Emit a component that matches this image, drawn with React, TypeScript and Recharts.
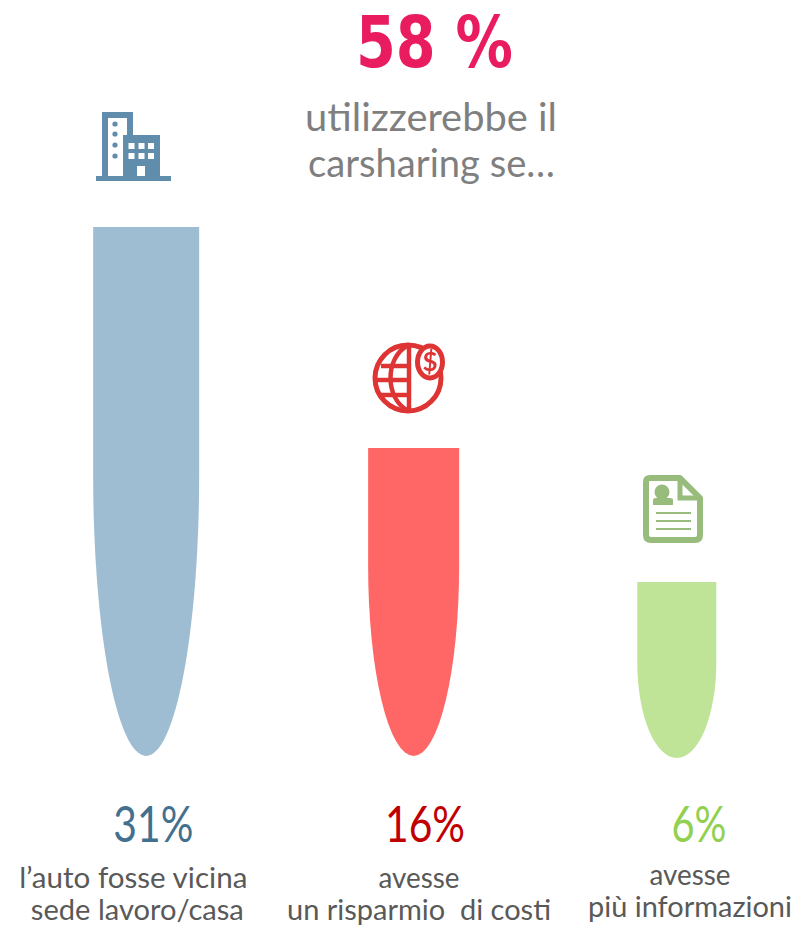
import { BarChart, Bar, XAxis, YAxis, Cell } from 'recharts';

// what each bar says
const categories = ['vicina', 'risparmio', 'informazioni'];
const percentLabels = ['31%', '16%', '6%'];
const captionTop = ['l\u2019auto fosse vicina', 'avesse', 'avesse'];
const captionBottom = ['sede lavoro/casa', 'un risparmio\u00a0\u00a0di costi', 'più informazioni'];
// drawn bar lengths: the picture is not to scale with the percentages
const drawnValues = [31, 18.05, 10.2];

const barColors = ['#9EBDD3', '#FF6666', '#BFE397'];
const percentColors = ['#44708F', '#C00000', '#92D050'];
const barWidths = [106, 91, 79];
const tipHeights = [280, 190, 95];
const barNudge = [0.7, 3.5, 2];
const bottomNudge = [0, 0, 2];
const percentDx = [8, 15, 24.3];
const percentWidths = [80, 80, 55];
const captionDx = [-12, 9, 15.3];
const captionBottomDx = [-8, 9, 15.3];
const captionDy = [132, 132, 129];
const captionWidths = [228, 81, 81];
const captionBottomWidths = [213, 264, 204];

const FONT = 'Lato, sans-serif';

const rows = categories.map((name, i) => ({ name, value: drawnValues[i] }));

function BuildingIcon() {
  const c = '#5F8DAB';
  return (
    <g fill={c} style={{ filter: 'blur(0.6px)' }}>
      <rect x={96} y={176} width={75} height={5} />
      <path d="M102 112h31v23h-11v41h-20z" />
      <rect x={108} y={118} width={19} height={58} fill="#fff" />
      {[124, 134, 145, 156].map((y) => (
        <circle key={y} cx={115} cy={y} r={2.6} />
      ))}
      <rect x={123} y={135} width={37} height={41} />
      {[143, 153].map((y) =>
        [128.5, 138.5, 148].map((x) => <rect key={`${x}-${y}`} x={x} y={y} width={6} height={6} fill="#fff" />),
      )}
      <rect x={137} y={166} width={8} height={10} fill="#fff" />
    </g>
  );
}

function GlobeIcon() {
  const c = '#DE3434';
  return (
    <g fill="none" stroke={c} strokeWidth={4.5} style={{ filter: 'blur(0.5px)' }}>
      <circle cx={408} cy={378} r={33} strokeWidth={5} />
      <line x1={409} y1={345} x2={409} y2={411} />
      <path d="M407 346C385 358 385 398 407 410" />
      <line x1={381} y1={366} x2={407} y2={366} />
      <line x1={376} y1={380} x2={407} y2={380} />
      <line x1={381} y1={395} x2={407} y2={395} />
      <ellipse cx={430} cy={362} rx={12.5} ry={16} fill="#fff" strokeWidth={5} />
      <text x={430} y={371} textAnchor="middle" fontSize={26} fontWeight={700} fontFamily={FONT} fill={c} stroke="none">
        $
      </text>
    </g>
  );
}

function DocumentIcon() {
  const c = '#98BC7C';
  return (
    <g style={{ filter: 'blur(0.5px)' }}>
      <path d="M650 478H680L700 498V535Q700 540 695 540H651Q646 540 646 535V482Q646 478 650 478Z" fill="#fff" stroke={c} strokeWidth={6} strokeLinejoin="round" />
      <path d="M680 478V498H700" fill="none" stroke={c} strokeWidth={5} />
      <circle cx={662} cy={492} r={7.5} fill={c} />
      <path d="M653 505V500Q653 498 656 498H670Q673 498 673 500V505Z" fill={c} />
      {[513, 521, 529].map((y) => (
        <line key={y} x1={656} y1={y} x2={691} y2={y} stroke={c} strokeWidth={2} />
      ))}
    </g>
  );
}

const icons = [BuildingIcon, GlobeIcon, DocumentIcon];

function TipBar(props: any) {
  const { x, y, width, height, index, fill } = props;
  const w = barWidths[index];
  const cx = x + width / 2 + barNudge[index];
  const bottom = y + height + bottomNudge[index];
  const ry = tipHeights[index];
  const left = cx - w / 2;
  const Icon = icons[index];
  return (
    <g>
      <path
        d={`M${left} ${y}H${left + w}V${bottom - ry}A${w / 2} ${ry} 0 0 1 ${left} ${bottom - ry}Z`}
        fill={fill}
      />
      <Icon />
    </g>
  );
}

function CaptionTick(props: any) {
  const { x, y, payload } = props;
  const i = payload.index;
  const lineGap = 32;
  return (
    <g fontFamily={FONT} textAnchor="middle">
      <text
        x={x + percentDx[i]}
        y={y + 86}
        fontSize={50}
        fill={percentColors[i]}
        textLength={percentWidths[i]}
        lengthAdjust="spacingAndGlyphs"
      >
        {percentLabels[i]}
      </text>
      <text
        x={x + captionDx[i]}
        y={y + captionDy[i]}
        fontSize={28}
        fill="#595959"
        textLength={captionWidths[i]}
        lengthAdjust="spacingAndGlyphs"
      >
        {captionTop[i]}
      </text>
      <text
        x={x + captionBottomDx[i]}
        y={y + captionDy[i] + lineGap}
        fontSize={28}
        fill="#595959"
        textLength={captionBottomWidths[i]}
        lengthAdjust="spacingAndGlyphs"
      >
        {captionBottom[i]}
      </text>
    </g>
  );
}

export default function App() {
  return (
    <div style={{ position: 'absolute', left: 0, top: 0, width: 807, height: 926, background: '#fff' }}>
      <BarChart width={807} height={926} data={rows} margin={{ top: 227, right: 0, bottom: 0, left: 13 }}>
        <XAxis
          dataKey="name"
          height={170}
          axisLine={false}
          tickLine={false}
          tickSize={0}
          tickMargin={0}
          interval={0}
          tick={CaptionTick}
        />
        <YAxis hide domain={[0, 31]} />
        <Bar dataKey="value" shape={TipBar} isAnimationActive={false}>
          {rows.map((row, i) => (
            <Cell key={row.name} fill={barColors[i]} />
          ))}
        </Bar>
        <text
          x={434.5}
          y={67}
          textAnchor="middle"
          fontFamily='"DejaVu Sans", sans-serif'
          fontSize={71}
          fontWeight={700}
          fill="#E81C5F"
          textLength={157}
          lengthAdjust="spacingAndGlyphs"
        >
          58 %
        </text>
        <text x={431} y={131} textAnchor="middle" fontFamily={FONT} fontSize={39} fill="#7F7F7F" textLength={252} lengthAdjust="spacingAndGlyphs">
          utilizzerebbe il
        </text>
        <text x={431.5} y={177} textAnchor="middle" fontFamily={FONT} fontSize={39} fill="#7F7F7F" textLength={247} lengthAdjust="spacingAndGlyphs">
          carsharing se…
        </text>
      </BarChart>
    </div>
  );
}
